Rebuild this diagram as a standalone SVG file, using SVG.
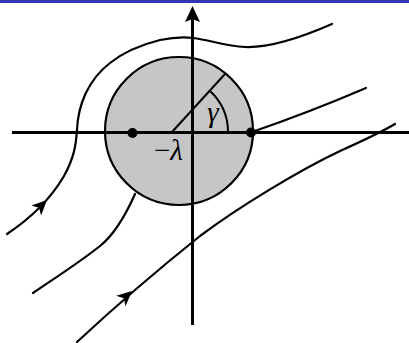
<svg xmlns="http://www.w3.org/2000/svg" width="409" height="343" viewBox="0 0 409 343">
<style>
.ax{stroke:#000;stroke-width:3;fill:none}
.sl{stroke:#000;stroke-width:2.2;fill:none;stroke-linecap:round}
.lbl{font-family:"Liberation Serif","DejaVu Serif",serif;font-size:29px;fill:#000}
</style>
<defs>
<polygon id="ah" points="0,0 -15,-7 -11,0 -15,7" fill="#000"/>
</defs>
<rect x="0" y="0" width="409" height="343" fill="#fff"/>
<rect x="0" y="0" width="409" height="3" fill="#3535b5"/>
<g id="body">
<circle cx="179" cy="131" r="74" fill="#c6c6c6" stroke="#000" stroke-width="2.2"/>
</g>
<g id="streamlines">
<path class="sl" d="M7,234 C28,220 50,200 64,176 C74,158 76,145 77,130 C78,105 88,80 110,63 C125,51 140,45 160,40 C175,37 185,37 193,38 C210,40 225,46 245,47 C270,48 300,38 332,24"/>
<path class="sl" d="M33,293 C55,278 80,262 100,246 C115,234 127,212 135,194"/>
<path class="sl" d="M252,132 Q310,112 366,88"/>
<path class="sl" d="M77,342 C120,302 160,268 200,236 C240,206 300,170 340,151 C360,142 380,133 395,124"/>
<use href="#ah" transform="translate(47,200) rotate(-44)"/>
<use href="#ah" transform="translate(132,291) rotate(-42)"/>
</g>
<g id="axes">
<line class="ax" x1="12" y1="132.5" x2="409" y2="132.5"/>
<line class="ax" x1="192.5" y1="18" x2="192.5" y2="325"/>
<polygon points="192.5,6 200,22 192.5,19 185,22" fill="#000"/>
</g>
<g id="angle">
<line x1="172" y1="132" x2="225" y2="74" stroke="#000" stroke-width="2"/>
<path d="M210,91 A56,56 0 0 1 228,132" fill="none" stroke="#000" stroke-width="2"/>
<text class="lbl" x="213" y="122" text-anchor="middle" font-style="italic">γ</text>
<text class="lbl" x="154" y="160">−<tspan font-style="italic">λ</tspan></text>
</g>
<g id="points">
<circle cx="132.5" cy="133" r="5" fill="#000"/>
<circle cx="251" cy="132.5" r="5" fill="#000"/>
</g>
</svg>
